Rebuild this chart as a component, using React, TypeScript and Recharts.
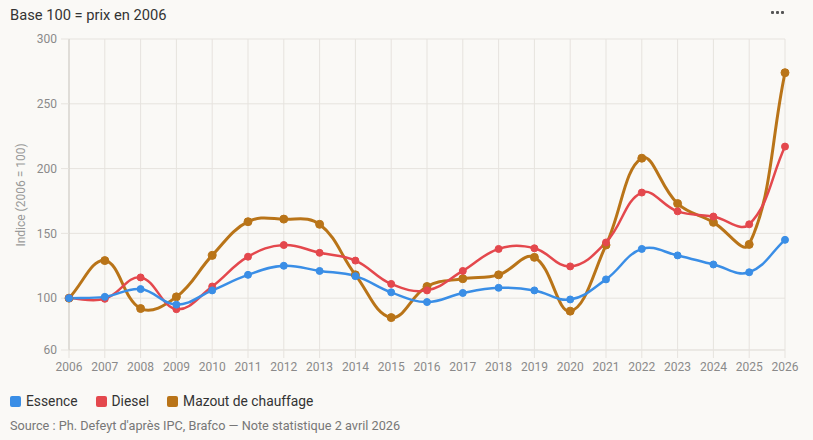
import { LineChart, Line, XAxis, YAxis, CartesianGrid, Label } from 'recharts';

const years = ['2006', '2007', '2008', '2009', '2010', '2011', '2012', '2013', '2014', '2015', '2016',
  '2017', '2018', '2019', '2020', '2021', '2022', '2023', '2024', '2025', '2026'];
const essence = [100, 101, 107, 95, 106, 118, 125, 121, 117, 104.5, 97, 104, 108, 106, 99, 114.5, 138, 133, 126, 120, 145];
const diesel = [100, 99.5, 116, 91.5, 109, 132, 141, 135, 129, 111, 106, 121, 138, 138.5, 124.5, 143, 181.5, 167, 163, 157, 217];
const mazout = [100, 129, 92, 101, 133, 159, 161, 157, 118, 85, 109, 115, 118, 131.5, 90, 141, 208, 173, 158.5, 141.5, 274];
const yTicks = [60, 100, 150, 200, 250, 300];

const series = [
  { key: 'essence', name: 'Essence', color: '#3a8ee6' },
  { key: 'diesel', name: 'Diesel', color: '#e4484d' },
  { key: 'mazout', name: 'Mazout de chauffage', color: '#b97418' },
];

const FONT = 'Roboto, "Noto Sans", sans-serif';
const GRID = '#e6e3de';

// tension-based bezier (same idea as a Chart.js line with tension 0.4)
function tensionCurve(context: any) {
  let pts: number[][] = [];
  const t = 0.4;
  return {
    areaStart() {},
    areaEnd() {},
    lineStart() { pts = []; },
    point(x: number, y: number) { pts.push([+x, +y]); },
    lineEnd() {
      const n = pts.length;
      if (!n) return;
      const cps = pts.map((p, i) => {
        const prev = pts[i - 1] || p;
        const next = pts[i + 1] || p;
        const d01 = Math.hypot(p[0] - prev[0], p[1] - prev[1]);
        const d12 = Math.hypot(next[0] - p[0], next[1] - p[1]);
        let s01 = d01 / (d01 + d12);
        let s12 = d12 / (d01 + d12);
        if (isNaN(s01)) s01 = 0;
        if (isNaN(s12)) s12 = 0;
        const fa = t * s01;
        const fb = t * s12;
        return {
          px: p[0] - fa * (next[0] - prev[0]),
          py: p[1] - fa * (next[1] - prev[1]),
          nx: p[0] + fb * (next[0] - prev[0]),
          ny: p[1] + fb * (next[1] - prev[1]),
        };
      });
      context.moveTo(pts[0][0], pts[0][1]);
      for (let i = 1; i < n; i++) {
        context.bezierCurveTo(cps[i - 1].nx, cps[i - 1].ny, cps[i].px, cps[i].py, pts[i][0], pts[i][1]);
      }
    },
  };
}

export default function App() {
  const data = years.map((y, i) => ({ year: y, essence: essence[i], diesel: diesel[i], mazout: mazout[i] }));
  const tick = { fontSize: 12, fill: '#8a8a8a', fontFamily: FONT };

  return (
    <div style={{ position: 'fixed', left: 0, top: 0, width: 813, height: 440, background: '#faf9f6', fontFamily: FONT, overflow: 'hidden' }}>
      <div style={{ position: 'absolute', left: 10, top: 6, fontSize: 14.7, color: '#333' }}>
        Base 100 = prix en 2006
      </div>
      {[771, 776, 781].map((x) => (
        <div key={x} style={{ position: 'absolute', left: x, top: 11, width: 3, height: 3, borderRadius: 1, background: '#555' }} />
      ))}

      <div style={{ position: 'absolute', left: 0, top: 0 }}>
        <LineChart width={813} height={380} data={data} margin={{ top: 39, right: 28, left: 0, bottom: 0 }}>
          <CartesianGrid stroke={GRID} />
          <XAxis
            dataKey="year"
            interval={0}
            tick={tick}
            tickSize={8}
            tickMargin={4}
            tickLine={{ stroke: GRID }}
            axisLine={{ stroke: GRID }}
            height={30}
          />
          <YAxis
            domain={[60, 300]}
            ticks={yTicks}
            interval={0}
            width={69}
            tick={tick}
            tickSize={8}
            tickMargin={4}
            tickLine={{ stroke: GRID }}
            axisLine={{ stroke: '#cfccc6' }}
          >
            <Label
              content={() => (
                <text x={22} y={195} transform="rotate(-90 22 195)" textAnchor="middle" dominantBaseline="middle"
                  fontSize={12} fill="#999" fontFamily={FONT}>
                  Indice (2006 = 100)
                </text>
              )}
            />
          </YAxis>
          {[...series].reverse().map((s) => (
            <Line
              key={s.key}
              dataKey={s.key}
              name={s.name}
              type={tensionCurve as any}
              stroke={s.color}
              strokeWidth={s.key === 'mazout' ? 3 : 2.5}
              dot={{ r: s.key === 'mazout' ? 4 : 3.5, fill: s.color, stroke: s.color, strokeWidth: 1 }}
              activeDot={false}
              isAnimationActive={false}
            />
          ))}
        </LineChart>
      </div>

      <div style={{ position: 'absolute', left: 10, top: 393, display: 'flex', alignItems: 'center', fontSize: 13.8, color: '#333' }}>
        {series.map((s) => (
          <div key={s.key} style={{ display: 'flex', alignItems: 'center', marginRight: 18 }}>
            <span style={{ width: 11, height: 11, borderRadius: 2, background: s.color, marginRight: 5, display: 'inline-block' }} />
            <span>{s.name}</span>
          </div>
        ))}
      </div>
      <div style={{ position: 'absolute', left: 10, top: 418, fontSize: 12.7, color: '#777' }}>
        Source : Ph. Defeyt d'après IPC, Brafco — Note statistique 2 avril 2026
      </div>
    </div>
  );
}
